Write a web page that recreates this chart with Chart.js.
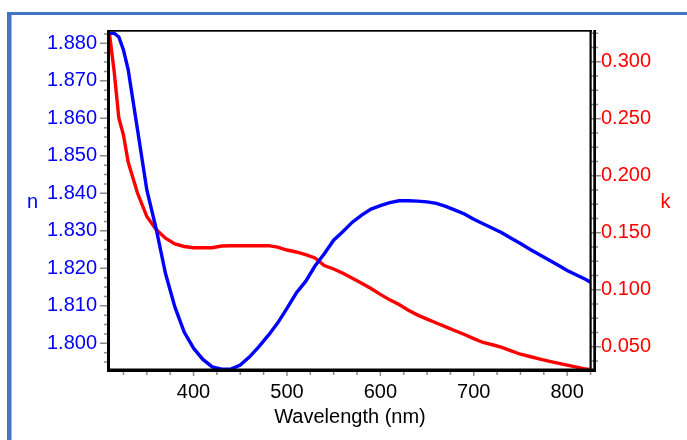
<!DOCTYPE html>
<html>
<head>
<meta charset="utf-8">
<script src="https://cdn.jsdelivr.net/npm/chart.js@4/dist/chart.umd.min.js"></script>
<style>
  html, body { margin: 0; padding: 0; background: #ffffff; }
  #wrap { width: 687px; height: 440px; }
</style>
</head>
<body>
<div id="wrap"><canvas id="chart" width="687" height="440"></canvas></div>
<script>
// Optical constants (refractive index n and extinction coefficient k) vs wavelength
const wavelengths = [310, 315, 320, 325, 330, 340, 350, 360, 370, 380, 390, 400, 410, 420, 430, 440,
  450, 460, 470, 480, 490, 500, 510, 520, 530, 540, 550, 560, 570, 580, 590, 600, 610, 620, 630,
  640, 650, 660, 670, 680, 690, 700, 710, 720, 730, 740, 750, 760, 770, 780, 790, 800, 810, 820, 825];

const nValues = [1.8827, 1.8827, 1.8817, 1.8782, 1.8730, 1.8570, 1.8409, 1.8305, 1.8186, 1.8097,
  1.8030, 1.7987, 1.7957, 1.7937, 1.7931, 1.7931, 1.7942, 1.7964, 1.7991, 1.8021, 1.8054, 1.8093,
  1.8134, 1.8165, 1.8206, 1.8239, 1.8275, 1.8298, 1.8323, 1.8342, 1.8358, 1.8367, 1.8375, 1.8380,
  1.8380, 1.8379, 1.8377, 1.8373, 1.8365, 1.8355, 1.8345, 1.8331, 1.8319, 1.8307, 1.8295, 1.8280,
  1.8266, 1.8251, 1.8237, 1.8223, 1.8209, 1.8194, 1.8182, 1.8170, 1.8163];

const kValues = [0.3243, 0.2917, 0.2506, 0.2357, 0.2120, 0.1848, 0.1642, 0.1528, 0.1452, 0.1401,
  0.1379, 0.1368, 0.1368, 0.1368, 0.1383, 0.1386, 0.1386, 0.1386, 0.1386, 0.1386, 0.1373, 0.1348,
  0.1331, 0.1308, 0.1278, 0.1212, 0.1182, 0.1144, 0.1101, 0.1056, 0.1010, 0.0959, 0.0911, 0.0870,
  0.0820, 0.0777, 0.0742, 0.0708, 0.0674, 0.0640, 0.0607, 0.0571, 0.0537, 0.0517, 0.0494, 0.0464,
  0.0434, 0.0414, 0.0393, 0.0374, 0.0356, 0.0339, 0.0321, 0.0304, 0.0298];

const xTicks = [400, 500, 600, 700, 800];
const nTicks = [1.800, 1.810, 1.820, 1.830, 1.840, 1.850, 1.860, 1.870, 1.880];
const kTicks = [0.050, 0.100, 0.150, 0.200, 0.250, 0.300];

const xTitle = 'Wavelength (nm)';
const nTitle = 'n';
const kTitle = 'k';

const FONT = '"Liberation Sans", Arial, sans-serif';
const BLUE = '#0000ff';
const RED = '#ff0000';

// Blue page frame, axis lines, minor/major tick marks and upright axis titles
const decorations = {
  id: 'decorations',
  beforeDraw(chart) {
    const ctx = chart.ctx;
    ctx.save();
    ctx.fillStyle = '#4472c4';
    ctx.fillRect(7, 12, 680, 3);
    ctx.fillRect(7, 12, 4.5, 428);
    ctx.restore();
  },
  afterDatasetsDraw(chart) {
    const ctx = chart.ctx;
    const a = chart.chartArea;
    const sx = chart.scales.x, sn = chart.scales.n, sk = chart.scales.k;
    ctx.save();

    // tick marks
    ctx.strokeStyle = '#8a8a8a';
    ctx.lineWidth = 1.5;
    const minorMarks = (scale, step, cb) => {
      const lo = Math.ceil(scale.min / step - 1e-9), hi = Math.floor(scale.max / step + 1e-9);
      for (let i = lo; i <= hi; i++) cb(scale.getPixelForValue(i * step));
    };
    ctx.beginPath();
    minorMarks(sn, 0.0025, y => { ctx.moveTo(a.left - 5, y); ctx.lineTo(a.left, y); });
    nTicks.forEach(v => { const y = sn.getPixelForValue(v); ctx.moveTo(a.left - 9, y); ctx.lineTo(a.left, y); });
    minorMarks(sk, 0.0125, y => { ctx.moveTo(a.right, y); ctx.lineTo(a.right + 7, y); });
    kTicks.forEach(v => { const y = sk.getPixelForValue(v); ctx.moveTo(a.right, y); ctx.lineTo(a.right + 10, y); });
    minorMarks(sx, 25, x => { ctx.moveTo(x, a.bottom); ctx.lineTo(x, a.bottom + 5); });
    xTicks.forEach(v => { const x = sx.getPixelForValue(v); ctx.moveTo(x, a.bottom); ctx.lineTo(x, a.bottom + 6); });
    ctx.stroke();

    // plot frame and axis lines
    ctx.fillStyle = '#000000';
    ctx.fillRect(a.left - 1, a.top - 1, a.right - a.left + 2, 1.7);
    ctx.fillRect(a.left - 2, a.top - 1, 3, a.bottom - a.top + 3);
    ctx.fillRect(a.left - 2, a.bottom - 1.5, a.right - a.left + 7, 3.5);
    ctx.fillRect(a.right - 1.5, a.top - 1, 2.2, a.bottom - a.top + 3);
    ctx.fillRect(a.right + 2.3, a.top - 1, 2.7, a.bottom - a.top + 3);

    // axis titles
    ctx.font = '20px ' + FONT;
    ctx.textAlign = 'center';
    ctx.textBaseline = 'alphabetic';
    ctx.fillStyle = BLUE;
    ctx.fillText(nTitle, 32.5, 207.5);
    ctx.fillStyle = RED;
    ctx.fillText(kTitle, 665.5, 207.5);
    ctx.fillStyle = '#000000';
    ctx.textBaseline = 'middle';
    ctx.fillText(xTitle, (a.left + a.right) / 2, 417);
    ctx.restore();
  }
};

const fixedTicks = arr => scale => { scale.ticks = arr.map(v => ({ value: v })); };

new Chart(document.getElementById('chart'), {
  type: 'line',
  data: {
    datasets: [
      {
        label: nTitle,
        data: wavelengths.map((w, i) => ({ x: w, y: nValues[i] })),
        yAxisID: 'n',
        borderColor: BLUE,
        borderWidth: 3.4,
        pointRadius: 0,
        tension: 0,
        fill: false
      },
      {
        label: kTitle,
        data: wavelengths.map((w, i) => ({ x: w, y: kValues[i] })),
        yAxisID: 'k',
        borderColor: RED,
        borderWidth: 3.4,
        pointRadius: 0,
        tension: 0,
        fill: false
      }
    ]
  },
  options: {
    responsive: false,
    animation: false,
    devicePixelRatio: 1,
    layout: { padding: { top: 31, left: 0, right: 0, bottom: 0 } },
    plugins: { legend: { display: false }, tooltip: { enabled: false } },
    scales: {
      x: {
        type: 'linear',
        position: 'bottom',
        min: 309.5,
        max: 825.5,
        grid: { display: false },
        border: { display: false },
        afterBuildTicks: fixedTicks(xTicks),
        afterFit(s) { s.height = 70; },
        ticks: {
          color: '#000000',
          font: { family: FONT, size: 20 },
          padding: 2,
          maxRotation: 0,
          callback: v => String(v)
        }
      },
      n: {
        type: 'linear',
        position: 'left',
        min: 1.79288,
        max: 1.88328,
        grid: { display: false },
        border: { display: false },
        afterBuildTicks: fixedTicks(nTicks),
        afterFit(s) { s.width = 109; },
        ticks: {
          color: BLUE,
          font: { family: FONT, size: 20 },
          padding: 4,
          callback: v => Number(v).toFixed(3)
        }
      },
      k: {
        type: 'linear',
        position: 'right',
        min: 0.02956,
        max: 0.32693,
        grid: { display: false },
        border: { display: false },
        afterBuildTicks: fixedTicks(kTicks),
        afterFit(s) { s.width = 96; },
        ticks: {
          color: RED,
          font: { family: FONT, size: 20 },
          padding: 2,
          callback: v => Number(v).toFixed(3)
        }
      }
    }
  },
  plugins: [decorations]
});
</script>
</body>
</html>
